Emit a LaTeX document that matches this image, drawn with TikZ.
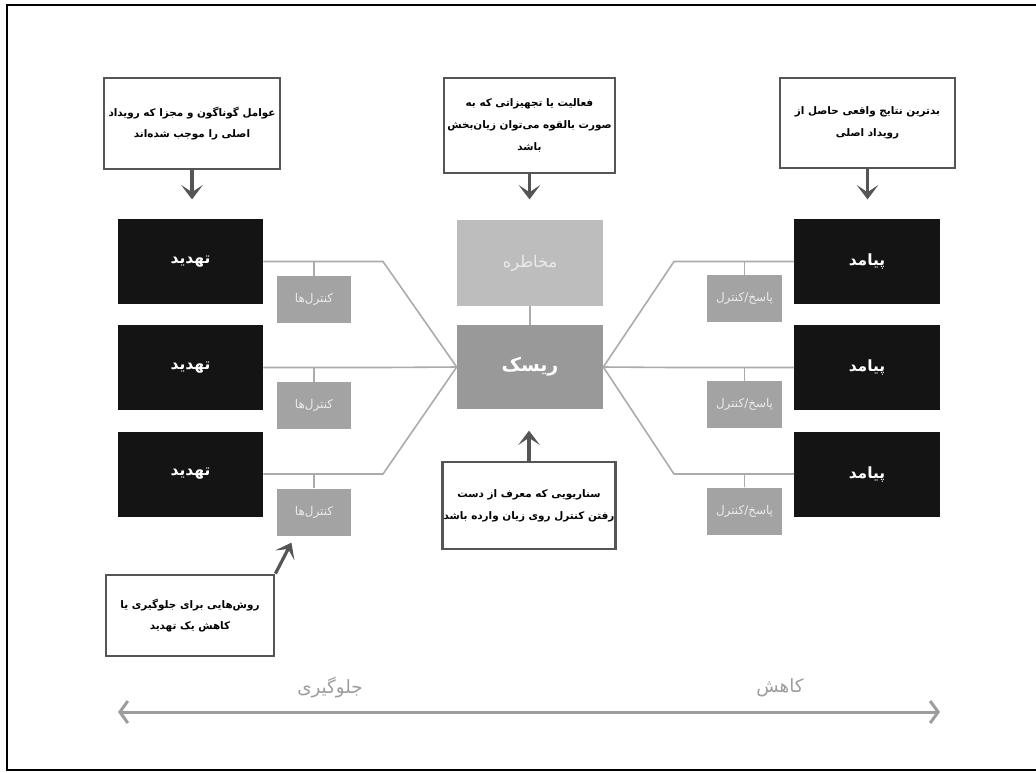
\documentclass[tikz,border=0pt]{standalone}
\usepackage{fontspec}
\newfontfamily\arabicfont[Script=Arabic]{DejaVu Sans}
\TeXXeTstate=1
\usetikzlibrary{arrows.meta}
\newcommand{\fa}[1]{\beginR #1\endR}
\definecolor{boxblack}{HTML}{141414}
\definecolor{hazardgray}{HTML}{BDBDBD}
\definecolor{riskgray}{HTML}{999999}
\definecolor{ctrlgray}{HTML}{A3A3A3}
\definecolor{wiregray}{HTML}{ABABAB}
\definecolor{notegray}{HTML}{555555}
\definecolor{axisgray}{HTML}{9D9D9D}
\begin{document}
\begin{tikzpicture}[x=0.025cm,y=-0.025cm,
  dark/.style={fill=boxblack,text=white,minimum width=36.25mm,minimum height=21.25mm,
    font=\arabicfont\bfseries\fontsize{11}{13}\selectfont},
  ctrl/.style={fill=ctrlgray,text=white!92!black,minimum width=18.5mm,minimum height=11.75mm,
    inner sep=0pt,font=\arabicfont\fontsize{8.5}{10}\selectfont},
  note/.style={draw=notegray,line width=0.7mm,fill=white,align=center,inner sep=0.5pt,
    font=\arabicfont\bfseries\fontsize{7.4}{15.5}\selectfont},
  wire/.style={wiregray,line width=0.4mm},
  callout/.style={notegray,line width=0.8mm,-{Stealth[length=3.6mm,width=5.4mm,inset=1.8mm]}},
  axislabel/.style={text=axisgray,font=\arabicfont\fontsize{13}{15}\selectfont}]
  \useasboundingbox (0,0) rectangle (1036,772);
  \draw[line width=0.55mm] (7,5) rectangle (1040,770);

  % centre of the bow tie
  \node[fill=hazardgray,text=white!92!black,minimum width=36.5mm,minimum height=21.5mm,
    font=\arabicfont\fontsize{11.5}{13}\selectfont] (hazard) at (530,263) {\fa{مخاطره}};
  \node[fill=riskgray,text=white,minimum width=36.5mm,minimum height=21mm,
    font=\arabicfont\bfseries\fontsize{13.5}{15}\selectfont] (risk) at (530,367) {\fa{ریسک}};
  \draw[wire] (hazard) -- (risk);

  % threats and consequences
  \foreach \i/\y in {1/261.5,2/367.5,3/474}{
    \node[dark] (threat\i) at (190.5,\y) {\fa{تهدید}};
    \node[dark] (conseq\i) at (867,\y) {\fa{پیامد}};
    \coordinate (bendL\i) at (383,\y);
    \coordinate (bendR\i) at (674,\y);
    \draw[wire] (threat\i.east) -- (bendL\i) -- (risk.west);
    \draw[wire] (conseq\i.west) -- (bendR\i) -- (risk.east);
    \node[ctrl] (ctrl\i) at (314,\y+38) {\fa{کنترل‌ها}};
    \node[ctrl,minimum width=18.75mm] (resp\i) at (744.5,\y+37) {\fa{پاسخ/کنترل}};
    \draw[wire] (ctrl\i.north) -- (ctrl\i.north |- threat\i.east);
    \draw[wire] (resp\i.north) -- (resp\i.north |- conseq\i.west);
  }

  % explanatory notes
  \node[note,minimum width=44mm,minimum height=22.75mm] (noteThreat) at (192,123.5)
    {\fa{عوامل گوناگون و مجزا که رویداد}\\\fa{اصلی را موجب شده‌اند}};
  \node[note,minimum width=42.75mm,minimum height=23.75mm] (noteHazard) at (529.5,125.5)
    {\fa{فعالیت یا تجهیزاتی که به}\\\fa{صورت بالقوه می‌توان زیان‌بخش}\\\fa{باشد}};
  \node[note,minimum width=43.75mm,minimum height=22.5mm] (noteConseq) at (867.5,123)
    {\fa{بدترین نتایج واقعی حاصل از}\\\fa{رویداد اصلی}};
  \node[note,minimum width=43mm,minimum height=21.75mm] (noteScenario) at (529,505.5)
    {\fa{سناریویی که معرف از دست}\\\fa{رفتن کنترل روی زیان وارده باشد}};
  \node[note,minimum width=42mm,minimum height=20.25mm] (noteControl) at (190,615.5)
    {\fa{روش‌هایی برای جلوگیری یا}\\\fa{کاهش یک تهدید}};

  \draw[callout] (noteThreat.south) -- ++(0,29);
  \draw[callout] (noteHazard.south) -- ++(0,25);
  \draw[callout] (noteConseq.south) -- ++(0,30);
  \draw[callout] (noteScenario.north) -- ++(0,-30);
  \draw[callout] (noteControl.north east) -- ++(16,-31);

  % prevention / mitigation axis
  \coordinate (axisL) at (118,712);
  \coordinate (axisR) at (940,712);
  \draw[axisgray,line width=0.75mm,{Straight Barb[length=2mm,width=5.5mm]}-{Straight Barb[length=2mm,width=5.5mm]}]
    (axisL) -- (axisR);
  \node[axislabel] (prevent) at (330,688) {\fa{جلوگیری}};
  \node[axislabel] (mitigate) at (780,688) {\fa{کاهش}};
\end{tikzpicture}
\end{document}
